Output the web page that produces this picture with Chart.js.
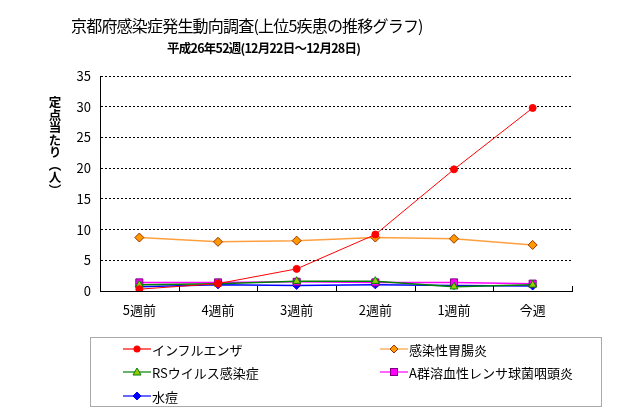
<!DOCTYPE html>
<html lang="ja">
  <head>
    <meta charset="UTF-8" />
    <title>京都府感染症発生動向調査</title>
    <script src="https://cdn.jsdelivr.net/npm/chart.js@4.4.0/dist/chart.umd.min.js"></script>
    <style>
      body { margin: 0; background: #fff; font-family: "Noto Sans CJK JP", sans-serif; }
      #wrap { position: relative; width: 639px; height: 415px; overflow: hidden; }
      #myChart { position: absolute; left: 0; top: 0; }
      .title { position: absolute; left: 71px; top: 13px; font-size: 16px; letter-spacing: -0.8px; white-space: nowrap; color: #000; }
      .subtitle { position: absolute; left: 167px; top: 38px; font-size: 12.5px; letter-spacing: -0.75px; font-weight: bold; white-space: nowrap; }
      .ytitle { position: absolute; left: 48px; top: 96px; font-size: 12.5px; font-weight: bold; writing-mode: vertical-rl; line-height: 1; }
      #legend { position: absolute; left: 90px; top: 337px; width: 512px; height: 70px; border: 1px solid #aaa; box-sizing: border-box; font-size: 13px; }
      .item { position: absolute; display: flex; align-items: center; white-space: nowrap; }
      .item svg { margin-right: 1px; }
    </style>
  </head>

  <body>
    <div id="wrap">
      <canvas id="myChart" width="639" height="415"></canvas>
      <div class="title">京都府感染症発生動向調査(上位5疾患の推移グラフ)</div>
      <div class="subtitle">平成26年52週(12月22日～12月28日)</div>
      <div class="ytitle">定点当たり（人）</div>
      <div id="legend"></div>
    </div>

    <script>
      // weeks
      const weeks = ["5週前", "4週前", "3週前", "2週前", "1週前", "今週"];

      // per-sentinel values
      const influenza = [0.3, 1.2, 3.6, 9.2, 19.8, 29.8];
      const gastro = [8.7, 8.0, 8.2, 8.7, 8.5, 7.5];
      const rsVirus = [1.0, 1.2, 1.6, 1.6, 0.7, 1.0];
      const strepA = [1.4, 1.4, 1.5, 1.4, 1.4, 1.2];
      const varicella = [0.7, 1.0, 0.9, 1.0, 0.9, 0.8];

      const yTicks = [0, 5, 10, 15, 20, 25, 30, 35];

      const series = [
        { label: "インフルエンザ", data: influenza, line: "#ff0000", fill: "#ff0000", edge: "#ff0000", shape: "circle", r: 3.5, w: 1, x: 32, y: 11 },
        { label: "感染性胃腸炎", data: gastro, line: "#ffa040", fill: "#ff9900", edge: "#993300", shape: "rectRot", r: 4.5, w: 1.5, x: 289, y: 11 },
        { label: "RSウイルス感染症", data: rsVirus, line: "#008000", fill: "#99cc00", edge: "#008000", shape: "triangle", r: 4.5, w: 1.5, x: 32, y: 34 },
        { label: "A群溶血性レンサ球菌咽頭炎", data: strepA, line: "#ff00ff", fill: "#ff00ff", edge: "#800080", shape: "rect", r: 5, w: 1.5, x: 289, y: 34 },
        { label: "水痘", data: varicella, line: "#0000ff", fill: "#0000ff", edge: "#0000ff", shape: "rectRot", r: 4, w: 1.5, x: 32, y: 58 },
      ];

      // short tick marks standing up from the x axis between categories
      const innerTicks = {
        id: "innerTicks",
        afterDraw(chart) {
          const xs = chart.scales.x;
          const c = chart.ctx;
          const bottom = chart.chartArea.bottom;
          c.save();
          c.strokeStyle = "#000";
          c.lineWidth = 1;
          for (let i = 0; i <= weeks.length; i++) {
            const px = Math.round(xs.getPixelForValue(i - 0.5)) + 0.5;
            c.beginPath();
            c.moveTo(px, bottom);
            c.lineTo(px, bottom - 5);
            c.stroke();
          }
          c.restore();
        },
      };

      const ctx = document.getElementById("myChart");
      new Chart(ctx, {
        type: "line",
        data: {
          labels: weeks,
          datasets: series.map((s) => ({
            label: s.label,
            data: s.data,
            borderColor: s.line,
            borderWidth: s.w,
            backgroundColor: s.fill,
            pointBackgroundColor: s.fill,
            pointBorderColor: s.edge,
            pointBorderWidth: 1,
            pointStyle: s.shape,
            pointRadius: s.r,
            tension: 0,
          })),
        },
        plugins: [innerTicks],
        options: {
          responsive: false,
          animation: false,
          layout: { padding: { left: 60, right: 67, top: 76, bottom: 94 } },
          plugins: {
            legend: { display: false },
            tooltip: { enabled: false },
          },
          scales: {
            x: {
              offset: true,
              grid: { display: false, drawTicks: false },
              border: { color: "#000", width: 1 },
              ticks: { color: "#000", padding: 11, font: { family: "Noto Sans CJK JP", size: 13 } },
              afterFit: (s) => { s.height = 30; },
            },
            y: {
              min: 0,
              max: 35,
              afterBuildTicks: (s) => { s.ticks = yTicks.map((v) => ({ value: v })); },
              grid: { color: "#000", lineWidth: 1, drawTicks: false },
              // in v4 border.dash dashes the grid lines, the axis line stays solid
              border: { color: "#000", width: 1, dash: [2, 2] },
              ticks: { color: "#000", padding: 9, font: { family: "Noto Sans CJK JP", size: 13 } },
              afterFit: (s) => { s.width = 40; },
            },
          },
        },
      });

      // legend in the boxed two-column layout
      const legend = document.getElementById("legend");
      series.forEach((s) => {
        const item = document.createElement("div");
        item.className = "item";
        item.style.left = s.x + "px";
        item.style.top = s.y - 10 + "px";
        let mark = "";
        if (s.shape === "circle") mark = `<circle cx="14" cy="10" r="3.5" fill="${s.fill}"/>`;
        if (s.shape === "rectRot") mark = `<polygon points="14,6 18,10 14,14 10,10" fill="${s.fill}" stroke="${s.edge}"/>`;
        if (s.shape === "triangle") mark = `<polygon points="14,6 18,13 10,13" fill="${s.fill}" stroke="${s.edge}"/>`;
        if (s.shape === "rect") mark = `<rect x="10.5" y="6.5" width="7" height="7" fill="${s.fill}" stroke="${s.edge}"/>`;
        item.innerHTML =
          `<svg width="28" height="20"><line x1="0" y1="10" x2="28" y2="10" stroke="${s.line}" stroke-width="1.2"/>${mark}</svg>` +
          `<span>${s.label}</span>`;
        legend.appendChild(item);
      });
    </script>
  </body>
</html>
